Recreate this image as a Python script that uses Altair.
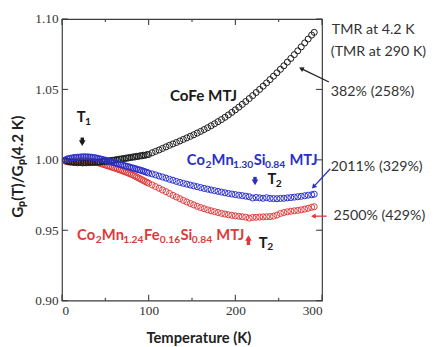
import altair as alt
import pandas as pd

# ---------------- data ----------------
T_DENSE = [4, 6, 8, 10, 12, 14, 16, 18, 20, 22,
           24, 26, 28, 30, 32, 34, 36, 38, 40, 42,
           44, 46, 48, 50, 52, 54, 56, 58, 60, 62,
           64, 66, 68, 70, 72, 74, 76, 78, 80, 82,
           84, 86, 88, 90, 92, 94, 96, 98, 100]
T_SPARSE = [104, 108, 112, 116, 120, 124, 128, 132, 136, 140,
            144, 148, 152, 156, 160, 164, 168, 172, 176, 180,
            184, 188, 192, 196, 200, 204, 208, 212, 216, 220,
            224, 228, 232, 236, 240, 244, 248, 252, 256, 260,
            264, 268, 272, 276, 280, 284, 288, 291]

COFE = [0.9996, 0.9991, 0.9988, 0.9984, 0.9985, 0.9981, 0.9983, 0.9979, 0.9982, 0.9980,
        0.9978, 0.9981, 0.9979, 0.9982, 0.9980, 0.9983, 0.9981, 0.9984, 0.9982, 0.9986,
        0.9984, 0.9988, 0.9987, 0.9991, 0.9989, 0.9994, 0.9993, 0.9997, 0.9996, 1.0001,
        1.0000, 1.0005, 1.0004, 1.0009, 1.0008, 1.0013, 1.0012, 1.0017, 1.0016, 1.0021,
        1.0020, 1.0025, 1.0024, 1.0029, 1.0028, 1.0033, 1.0032, 1.0037, 1.0038,
        1.0050, 1.0060, 1.0070, 1.0081, 1.0092, 1.0103, 1.0113, 1.0123, 1.0134, 1.0145,
        1.0156, 1.0167, 1.0178, 1.0190, 1.0202, 1.0215, 1.0228, 1.0242, 1.0256, 1.0271,
        1.0286, 1.0302, 1.0319, 1.0337, 1.0355, 1.0374, 1.0394, 1.0414, 1.0435, 1.0456,
        1.0478, 1.0500, 1.0523, 1.0546, 1.0570, 1.0594, 1.0618, 1.0643, 1.0668, 1.0694,
        1.0720, 1.0747, 1.0774, 1.0802, 1.0830, 1.0858, 1.0886, 1.0905]

BLUE = [1.0000, 1.0006, 1.0009, 1.0012, 1.0013, 1.0016, 1.0016, 1.0019, 1.0018, 1.0021,
        1.0020, 1.0022, 1.0020, 1.0021, 1.0019, 1.0019, 1.0016, 1.0015, 1.0012, 1.0010,
        1.0006, 1.0004, 1.0000, 0.9998, 0.9993, 0.9991, 0.9986, 0.9984, 0.9979, 0.9977,
        0.9972, 0.9970, 0.9965, 0.9963, 0.9958, 0.9956, 0.9951, 0.9949, 0.9944, 0.9942,
        0.9937, 0.9935, 0.9930, 0.9928, 0.9923, 0.9920, 0.9915, 0.9911, 0.9906,
        0.9900, 0.9893, 0.9885, 0.9878, 0.9870, 0.9862, 0.9855, 0.9847, 0.9840, 0.9833,
        0.9827, 0.9821, 0.9815, 0.9809, 0.9803, 0.9797, 0.9792, 0.9786, 0.9781, 0.9776,
        0.9771, 0.9766, 0.9761, 0.9757, 0.9753, 0.9749, 0.9746, 0.9742, 0.9738, 0.9729,
        0.9733, 0.9730, 0.9727, 0.9731, 0.9726, 0.9725, 0.9724, 0.9726, 0.9727, 0.9730,
        0.9732, 0.9735, 0.9738, 0.9741, 0.9745, 0.9749, 0.9752, 0.9756]

RED = [0.9990, 0.9986, 0.9985, 0.9986, 0.9987, 0.9988, 0.9989, 0.9990, 0.9991, 0.9992,
       0.9992, 0.9992, 0.9991, 0.9991, 0.9990, 0.9989, 0.9987, 0.9985, 0.9982, 0.9979,
       0.9975, 0.9971, 0.9967, 0.9963, 0.9959, 0.9955, 0.9951, 0.9947, 0.9943, 0.9939,
       0.9935, 0.9930, 0.9926, 0.9921, 0.9917, 0.9912, 0.9907, 0.9902, 0.9897, 0.9892,
       0.9885, 0.9879, 0.9872, 0.9866, 0.9859, 0.9853, 0.9846, 0.9840, 0.9834,
       0.9822, 0.9810, 0.9798, 0.9786, 0.9774, 0.9761, 0.9748, 0.9736, 0.9724, 0.9712,
       0.9701, 0.9690, 0.9680, 0.9670, 0.9661, 0.9653, 0.9645, 0.9638, 0.9632, 0.9626,
       0.9620, 0.9615, 0.9610, 0.9606, 0.9602, 0.9599, 0.9596, 0.9593, 0.9586, 0.9591,
       0.9592, 0.9594, 0.9595, 0.9596, 0.9597, 0.9600, 0.9608, 0.9619, 0.9626, 0.9631,
       0.9635, 0.9638, 0.9641, 0.9645, 0.9650, 0.9656, 0.9663, 0.9667]

X_TICKS = [0, 100, 200, 300]
X_MINOR = [50, 150, 250]
Y_TICKS = [0.90, 0.95, 1.00, 1.05, 1.10]

RIGHT_TEXT = ["TMR at 4.2 K", "(TMR at 290 K)", "382% (258%)", "2011% (329%)", "2500% (429%)"]
RIGHT_T = [311.3, 310.2, 310.2, 310.2, 313.2]
RIGHT_V = [1.0921, 1.0767, 1.0483, 0.9948, 0.9600]

# thin pointer arrows: tail (T, v) -> head (T, v), head angle
PTR_T1 = [308.0, 309.5, 305.3]
PTR_V1 = [1.0553, 0.9937, 0.9600]
PTR_T2 = [276.0, 290.2, 290.0]
PTR_V2 = [1.0648, 0.9808, 0.9600]
PTR_ANGLE = [297, 223, 270]

BLACK = "#1a1a1a"
BLUE_C = "#2a2fc8"
RED_C = "#dd3a3a"
FRAME = "#3c3c3c"
PTR_COLOR = ["#222222", BLUE_C, RED_C]

T_ALL = T_DENSE + T_SPARSE
assert len(COFE) == len(T_ALL) and len(BLUE) == len(T_ALL) and len(RED) == len(T_ALL)

W_PX, H_PX = 265, 287
X_DOM = [0, 300]
Y_DOM = [0.90, 1.10]
XS = alt.Scale(domain=X_DOM, nice=False, zero=False)
YS = alt.Scale(domain=Y_DOM, nice=False, zero=False)
FONT = "Lato"
# inward tick lengths, converted from pixels to data units
PX_X = (X_DOM[1] - X_DOM[0]) / W_PX
PX_Y = (Y_DOM[1] - Y_DOM[0]) / H_PX


def xq(field="T", axis=None):
    return alt.X(f"{field}:Q", scale=XS, axis=axis)


def yq(field="v", axis=None):
    return alt.Y(f"{field}:Q", scale=YS, axis=axis)


def series(vals, color, xaxis=None, yaxis=None):
    d = pd.DataFrame({"T": T_ALL, "v": vals})
    return alt.Chart(d).mark_point(shape="circle", filled=False, size=38, strokeWidth=1.0,
                                   opacity=1, color=color).encode(x=xq(axis=xaxis), y=yq(axis=yaxis))


def text_layer(t, v, s, size, color, weight="bold", dx=0, dy=0, align="left"):
    d = pd.DataFrame({"T": [t], "v": [v], "s": [s]})
    return alt.Chart(d).mark_text(align=align, baseline="middle", dx=dx, dy=dy, fontSize=size,
                                  fontWeight=weight, font=FONT, color=color).encode(
        x=xq(), y=yq(), text="s:N")


W = {"C": 0.70, "o": 0.57, "M": 0.88, "n": 0.57, "S": 0.50, "i": 0.26, "F": 0.54,
     "e": 0.53, "T": 0.57, "J": 0.38, " ": 0.25, ".": 0.25}


def width(s, fs):
    return sum(W.get(c, 0.59) for c in s) * fs


def rich(pieces, t, v, color, main=15, sub=10.5, sub_dy=5):
    out = []
    off = 0.0
    for txt, is_sub in pieces:
        fs = sub if is_sub else main
        lead = len(txt) - len(txt.lstrip(" "))
        off += width(" " * lead, fs)
        body = txt.lstrip(" ")
        out.append(text_layer(t, v, body, fs, color, dx=off, dy=sub_dy if is_sub else 0))
        off += width(body, fs)
    return out


def xticks(values, at, inward, length_px):
    d = pd.DataFrame({"T": values, "v": [at] * len(values),
                      "v2": [at + inward * length_px * PX_Y] * len(values)})
    return alt.Chart(d).mark_rule(color=FRAME, strokeWidth=1.1).encode(x=xq(), y=yq(), y2="v2:Q")


def yticks(values, at, inward, length_px):
    d = pd.DataFrame({"T": [at] * len(values), "v": values,
                      "T2": [at + inward * length_px * PX_X] * len(values)})
    return alt.Chart(d).mark_rule(color=FRAME, strokeWidth=1.1).encode(x=xq(), x2="T2:Q", y=yq())


main_x = alt.Axis(orient="bottom", values=X_TICKS, format="d", ticks=False, domain=False,
                  labelFont="Liberation Serif", labelFontSize=13.5, labelColor="#333333",
                  labelPadding=3, title="Temperature (K)", titleFont=FONT, titleFontSize=15,
                  titleFontWeight="bold", titleColor="#222222", titlePadding=14, titleX=139,
                  grid=False)
main_y = alt.Axis(orient="left", values=Y_TICKS, format=".2f", ticks=False, domain=False,
                  labelFont="Liberation Serif", labelFontSize=13.5, labelColor="#333333",
                  labelPadding=4, title="Gₚ(T)/Gₚ(4.2 K)", titleFont=FONT, titleFontSize=15.5,
                  titleFontWeight="bold", titleColor="#222222", titlePadding=10, titleY=150,
                  grid=False)

layers = [
    series(RED, RED_C, xaxis=main_x, yaxis=main_y),
    series(COFE, BLACK),
    series(BLUE, BLUE_C),
    xticks(X_TICKS, Y_DOM[0], 1, 6),
    xticks(X_TICKS, Y_DOM[1], -1, 6),
    xticks(X_MINOR, Y_DOM[0], 1, 3),
    xticks(X_MINOR, Y_DOM[1], -1, 3),
    yticks(Y_TICKS, X_DOM[0], 1, 6),
    yticks(Y_TICKS, X_DOM[1], -1, 6),
]

# labels
layers.append(text_layer(124.5, 1.0454, "CoFe MTJ", 15.5, BLACK))
layers += rich([("Co", False), ("2", True), ("Mn", False), ("1.30", True), ("Si", False),
                ("0.84", True), (" MTJ", False)], 144.0, 0.9997, BLUE_C, sub_dy=4.5)
layers += rich([("Co", False), ("2", True), ("Mn", False), ("1.24", True), ("Fe", False),
                ("0.16", True), ("Si", False), ("0.84", True), (" MTJ", False)], 17.4, 0.9466, RED_C)
layers += rich([("T", False), ("1", True)], 17.0, 1.0305, BLACK)
layers += rich([("T", False), ("2", True)], 237.0, 0.9862, BLACK)
layers += rich([("T", False), ("2", True)], 227.0, 0.9412, BLACK)

# thick block arrows (T1, T2 blue, T2 red)
BLK_T = [23.4, 222.7, 215.1]
BLK_V1 = [1.0158, 0.9879, 0.9395]
BLK_V2 = [1.0118, 0.9840, 0.9445]
BLK_HEAD = ["triangle-down", "triangle-down", "triangle-up"]
BLK_COL = [BLACK, BLUE_C, RED_C]
for t, a, b, shp, col in zip(BLK_T, BLK_V1, BLK_V2, BLK_HEAD, BLK_COL):
    d = pd.DataFrame({"T": [t], "v": [a], "v2": [b]})
    layers.append(alt.Chart(d).mark_rule(color=col, strokeWidth=3.5).encode(
        x=xq(), y=yq(), y2="v2:Q"))
    layers.append(alt.Chart(d).mark_point(shape=shp, filled=True, size=45, opacity=1, color=col)
                  .encode(x=xq(), y=yq("v2")))

# thin pointers to the TMR values
for t1, v1, t2, v2, ang, col in zip(PTR_T1, PTR_V1, PTR_T2, PTR_V2, PTR_ANGLE, PTR_COLOR):
    d = pd.DataFrame({"T": [t1], "v": [v1], "T2": [t2], "v2": [v2]})
    layers.append(alt.Chart(d).mark_rule(color=col, strokeWidth=1.3).encode(
        x=xq(), y=yq(), x2="T2:Q", y2="v2:Q"))
    layers.append(alt.Chart(d).mark_point(shape="triangle-up", filled=True, size=30, angle=ang,
                                          opacity=1, color=col).encode(x=xq("T2"), y=yq("v2")))

# right-hand TMR texts
for s, t, v in zip(RIGHT_TEXT, RIGHT_T, RIGHT_V):
    layers.append(text_layer(t, v, s, 14.5, "#333333", weight="normal"))

chart = alt.layer(*layers).resolve_axis(x="independent", y="independent").properties(
    width=W_PX, height=H_PX,
    autosize=alt.AutoSizeParams(type="none"),
    padding={"left": 55, "top": 8, "right": 109, "bottom": 44},
).configure_view(stroke=FRAME, strokeWidth=1.2).configure_axis(grid=False)

chart.save("out.html", embed_options={"renderer": "svg", "actions": False})
